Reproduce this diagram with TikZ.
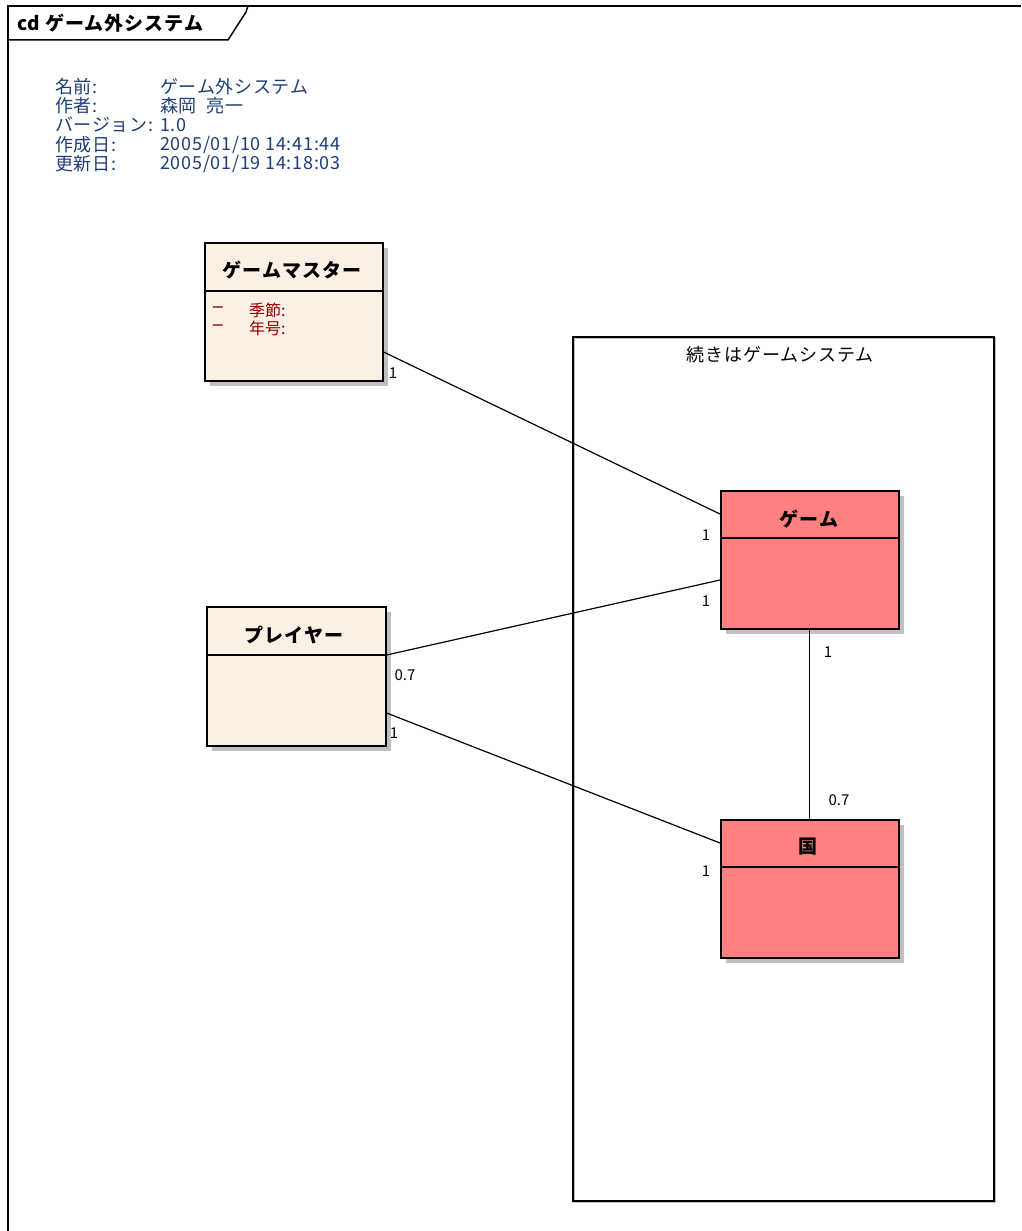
\documentclass[tikz,border=0pt]{standalone}
\usepackage{fontspec}
\setmainfont{Noto Sans CJK JP}
\newfontfamily\dashfont{DejaVu Sans}
\usetikzlibrary{calc}
\definecolor{metablue}{RGB}{30,62,120}
\definecolor{attrred}{RGB}{140,0,0}
\definecolor{cream}{RGB}{251,240,227}
\definecolor{salmon}{RGB}{255,128,128}
\definecolor{shadowgray}{RGB}{192,192,192}
\tikzset{
  classbox/.style={draw=black, line width=1.6, anchor=north west, minimum width=178pt, minimum height=138pt, inner sep=0pt},
  cream box/.style={classbox, fill=cream},
  red box/.style={classbox, fill=salmon},
  assoc/.style={draw=black, line width=1.2},
  mult/.style={font=\fontsize{15}{15}\selectfont, inner sep=1pt},
  meta/.style={font=\fontsize{18}{18}\selectfont\addfontfeatures{LetterSpace=4}, text=metablue, anchor=west, inner sep=0pt},
  ctitle/.style={font=\bfseries\fontsize{19}{19}\selectfont\addfontfeatures{LetterSpace=5}, inner sep=0pt},
  attr/.style={font=\fontsize{16}{16}\selectfont, text=attrred, anchor=west, inner sep=0pt},
  attrdash/.style={font=\dashfont\fontsize{16}{16}\selectfont, text=attrred, anchor=west, inner sep=0pt},
}
\begin{document}
\begin{tikzpicture}[x=1pt, y=-1pt]
\useasboundingbox (0,0) rectangle (1021,1231);
\fill[white] (0,0) rectangle (1021,1231);
% frame
\draw[line width=2] (1021,6) -- (8,6) -- (8,1231);
\draw[line width=1.5] (8,40) -- (228,40) -- (246,12) -- (248,6);
\node[font=\bfseries\fontsize{19}{19}\selectfont\addfontfeatures{LetterSpace=5}, anchor=west, inner sep=0pt] (frametitle) at (17,23) {cd ゲーム外システム};
% metadata
\node[meta] (m1) at (55,87) {名前:};
\node[meta] (m2) at (55,106) {作者:};
\node[meta] (m3) at (55,125) {バージョン:};
\node[meta] (m4) at (55,145) {作成日:};
\node[meta] (m5) at (55,164) {更新日:};
\node[meta] (v1) at (160,87) {ゲーム外システム};
\node[meta] (v2) at (160,106) {森岡\ \ 亮一};
\node[meta] (v3) at (160,125) {1.0};
\node[meta] (v4) at (160,145) {2005/01/10 14:41:44};
\node[meta] (v5) at (160,164) {2005/01/19 14:18:03};
% package boundary
\draw[shadowgray, line width=1.5] (574,338) rectangle (995,1202);
\node[draw=black, line width=1.6, anchor=north west, minimum width=421pt, minimum height=864pt, inner sep=0pt] (pkg) at (572,336) {};
\node[font=\fontsize{18}{18}\selectfont\addfontfeatures{LetterSpace=5}, inner sep=0pt] (pkglabel) at (780,355) {続きはゲームシステム};
% shadows
\fill[shadowgray] (210,248) rectangle (388,386);
\fill[shadowgray] (212,612) rectangle (391,751);
\fill[shadowgray] (726,496) rectangle (904,634);
\fill[shadowgray] (726,825) rectangle (904,963);
% classes
\node[cream box] (gm) at (204,242) {};
\node[cream box, minimum width=179pt, minimum height=139pt] (pl) at (206,606) {};
\node[red box] (game) at (720,490) {};
\node[red box] (koku) at (720,819) {};
% dividers
\draw[line width=1.4] (gm.west |- 0,291) -- (gm.east |- 0,291);
\draw[line width=1.4] (pl.west |- 0,655) -- (pl.east |- 0,655);
\draw[line width=1.4] (game.west |- 0,538) -- (game.east |- 0,538);
\draw[line width=1.4] (koku.west |- 0,867) -- (koku.east |- 0,867);
% titles
\node[ctitle] (gmt) at (292,270) {ゲームマスター};
\node[ctitle] (plt) at (294,635) {プレイヤー};
\node[ctitle] (gt) at (809,519) {ゲーム};
\node[ctitle] (kt) at (808,847) {国};
% attributes
\node[attrdash] (a1m) at (211,310) {−};
\node[attr] (a1) at (249,310) {季節:};
\node[attrdash] (a2m) at (211,328) {−};
\node[attr] (a2) at (249,328) {年号:};
% connectors
\draw[assoc] (gm.east |- 0,352) -- (game.west |- 0,514);
\draw[assoc] (pl.east |- 0,655) -- (game.west |- 0,580);
\draw[assoc] (pl.east |- 0,713) -- (koku.west |- 0,843);
\draw[assoc] (game.south) -- (koku.north);
% multiplicities
\node[mult] (l1) at (393,373) {1};
\node[mult] (l2) at (706,535) {1};
\node[mult] (l3) at (405,675) {0.7};
\node[mult] (l4) at (706,601) {1};
\node[mult] (l5) at (394,733) {1};
\node[mult] (l6) at (706,871) {1};
\node[mult] (l7) at (828,652) {1};
\node[mult] (l8) at (839,800) {0.7};
\end{tikzpicture}
\end{document}
